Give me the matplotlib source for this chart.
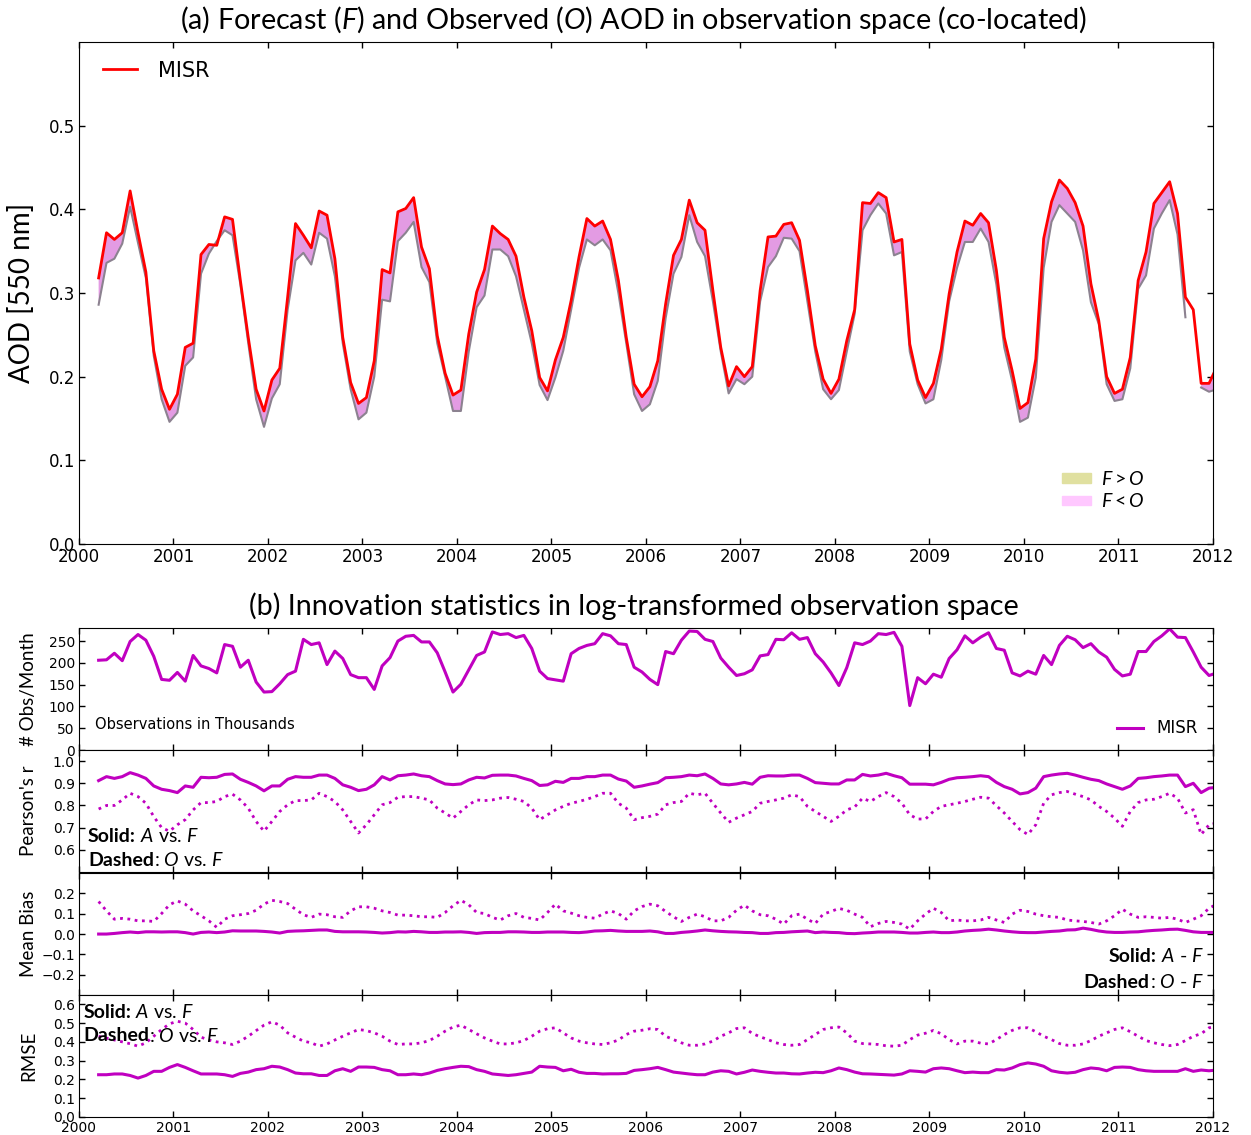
import numpy as np
import matplotlib
matplotlib.use("Agg")
import matplotlib.pyplot as plt
from matplotlib.patches import Patch

plt.rcParams["mathtext.fontset"] = "custom"
plt.rcParams["mathtext.rm"] = "Lato"
plt.rcParams["mathtext.it"] = "Lato:italic"
plt.rcParams["mathtext.bf"] = "Lato:bold"

# ---------- data (monthly, Mar 2000 .. Jan 2012) ----------
start_year, start_month, n_months = 2000, 3, 143
years = start_year + (np.arange(n_months) + start_month - 1 + 0.5) / 12

# observed (MISR) AOD, red line
aod_obs = [0.318, 0.372, 0.364, 0.372, 0.422, 0.372, 0.325, 0.231, 0.185, 0.161,
           0.179, 0.235, 0.240, 0.346, 0.358, 0.357, 0.391, 0.388, 0.315, 0.247,
           0.185, 0.159, 0.196, 0.210, 0.295, 0.383, 0.369, 0.354, 0.398, 0.393,
           0.341, 0.247, 0.193, 0.168, 0.175, 0.219, 0.328, 0.324, 0.397, 0.401,
           0.414, 0.355, 0.329, 0.249, 0.204, 0.178, 0.184, 0.251, 0.301, 0.328,
           0.380, 0.371, 0.364, 0.344, 0.295, 0.255, 0.199, 0.183, 0.220, 0.247,
           0.291, 0.343, 0.389, 0.380, 0.386, 0.364, 0.315, 0.247, 0.191, 0.176,
           0.188, 0.219, 0.287, 0.345, 0.364, 0.411, 0.384, 0.375, 0.303, 0.235,
           0.189, 0.212, 0.200, 0.212, 0.303, 0.367, 0.368, 0.382, 0.384, 0.363,
           0.303, 0.237, 0.197, 0.180, 0.197, 0.243, 0.280, 0.408, 0.407, 0.420,
           0.414, 0.361, 0.364, 0.239, 0.196, 0.175, 0.192, 0.233, 0.299, 0.349,
           0.386, 0.381, 0.395, 0.384, 0.327, 0.247, 0.207, 0.162, 0.169, 0.221,
           0.365, 0.409, 0.435, 0.425, 0.408, 0.380, 0.311, 0.267, 0.200, 0.180,
           0.185, 0.223, 0.315, 0.349, 0.407, 0.420, 0.433, 0.395, 0.295, 0.280,
           0.192, 0.192, 0.212]

# forecast AOD, grey line
aod_fcst = [0.286, 0.336, 0.341, 0.359, 0.403, 0.360, 0.318, 0.225, 0.173, 0.146,
            0.157, 0.213, 0.223, 0.323, 0.347, 0.362, 0.375, 0.369, 0.310, 0.240,
            0.173, 0.140, 0.174, 0.191, 0.280, 0.339, 0.348, 0.334, 0.372, 0.365,
            0.320, 0.240, 0.185, 0.149, 0.157, 0.200, 0.292, 0.290, 0.362, 0.372,
            0.385, 0.331, 0.313, 0.240, 0.200, 0.159, 0.159, 0.230, 0.283, 0.297,
            0.352, 0.352, 0.344, 0.320, 0.280, 0.240, 0.190, 0.172, 0.199, 0.231,
            0.280, 0.330, 0.364, 0.357, 0.364, 0.351, 0.300, 0.240, 0.179, 0.159,
            0.167, 0.195, 0.270, 0.323, 0.343, 0.393, 0.361, 0.344, 0.290, 0.230,
            0.180, 0.197, 0.191, 0.200, 0.290, 0.331, 0.344, 0.366, 0.365, 0.350,
            0.290, 0.230, 0.185, 0.173, 0.184, 0.230, 0.275, 0.375, 0.393, 0.407,
            0.395, 0.345, 0.349, 0.230, 0.191, 0.168, 0.173, 0.220, 0.290, 0.330,
            0.361, 0.361, 0.377, 0.361, 0.310, 0.235, 0.195, 0.146, 0.151, 0.199,
            0.330, 0.385, 0.405, 0.395, 0.385, 0.351, 0.289, 0.263, 0.191, 0.171,
            0.173, 0.210, 0.305, 0.321, 0.377, 0.395, 0.411, 0.370, 0.271, np.nan,
            0.187, 0.182, 0.185]

# number of observations per month (thousands)
n_obs = [206, 207, 222, 205, 249, 265, 252, 215, 162, 160,
         178, 158, 217, 193, 187, 177, 242, 238, 190, 206,
         156, 133, 134, 152, 173, 181, 254, 242, 246, 196,
         227, 210, 173, 166, 166, 139, 193, 212, 250, 261,
         263, 248, 248, 223, 179, 133, 151, 184, 217, 225,
         271, 265, 267, 258, 263, 233, 181, 164, 161, 158,
         221, 233, 240, 244, 267, 262, 244, 242, 190, 179,
         162, 150, 226, 221, 252, 273, 272, 254, 249, 211,
         190, 171, 175, 184, 216, 219, 254, 253, 269, 254,
         258, 221, 202, 177, 148, 189, 246, 242, 250, 267,
         265, 270, 238, 102, 166, 152, 174, 167, 210, 230,
         262, 246, 259, 269, 233, 229, 177, 170, 181, 174,
         217, 196, 240, 261, 253, 235, 244, 225, 213, 185,
         170, 174, 226, 226, 249, 262, 278, 259, 258, 225,
         190, 171, 177]

# Pearson's r, A vs F (solid) and O vs F (dashed)
r_af = [0.912, 0.930, 0.922, 0.930, 0.948, 0.937, 0.922, 0.888, 0.873, 0.867,
        0.858, 0.888, 0.882, 0.927, 0.925, 0.927, 0.940, 0.942, 0.918, 0.904,
        0.888, 0.866, 0.888, 0.888, 0.918, 0.930, 0.927, 0.927, 0.937, 0.937,
        0.922, 0.893, 0.882, 0.867, 0.873, 0.893, 0.930, 0.915, 0.934, 0.937,
        0.942, 0.934, 0.930, 0.912, 0.897, 0.894, 0.897, 0.915, 0.927, 0.924,
        0.936, 0.937, 0.937, 0.933, 0.922, 0.912, 0.890, 0.893, 0.909, 0.904,
        0.922, 0.922, 0.930, 0.930, 0.937, 0.937, 0.919, 0.910, 0.882, 0.888,
        0.896, 0.903, 0.925, 0.927, 0.930, 0.937, 0.934, 0.942, 0.922, 0.897,
        0.893, 0.897, 0.904, 0.896, 0.927, 0.934, 0.933, 0.933, 0.937, 0.937,
        0.922, 0.903, 0.900, 0.897, 0.897, 0.915, 0.915, 0.940, 0.933, 0.937,
        0.945, 0.934, 0.925, 0.896, 0.896, 0.896, 0.893, 0.904, 0.918, 0.925,
        0.927, 0.930, 0.934, 0.930, 0.904, 0.885, 0.873, 0.852, 0.858, 0.878,
        0.930, 0.937, 0.942, 0.945, 0.937, 0.927, 0.918, 0.912, 0.897, 0.885,
        0.873, 0.888, 0.922, 0.925, 0.930, 0.933, 0.937, 0.937, 0.885, 0.900,
        0.858, 0.878, 0.882]
r_of = [0.784, 0.800, 0.800, 0.825, 0.855, 0.840, 0.810, 0.750, 0.700, 0.684,
        0.713, 0.736, 0.780, 0.813, 0.813, 0.818, 0.840, 0.851, 0.825, 0.788,
        0.728, 0.684, 0.728, 0.773, 0.803, 0.822, 0.822, 0.825, 0.855, 0.840,
        0.818, 0.780, 0.728, 0.676, 0.713, 0.758, 0.803, 0.813, 0.837, 0.840,
        0.840, 0.833, 0.825, 0.788, 0.766, 0.743, 0.773, 0.803, 0.825, 0.822,
        0.825, 0.833, 0.836, 0.828, 0.818, 0.788, 0.736, 0.758, 0.780, 0.796,
        0.810, 0.818, 0.828, 0.840, 0.855, 0.855, 0.810, 0.788, 0.736, 0.745,
        0.751, 0.761, 0.803, 0.813, 0.818, 0.855, 0.848, 0.855, 0.810, 0.766,
        0.724, 0.743, 0.758, 0.773, 0.810, 0.818, 0.825, 0.833, 0.848, 0.840,
        0.796, 0.773, 0.751, 0.728, 0.751, 0.780, 0.793, 0.833, 0.818, 0.840,
        0.858, 0.840, 0.810, 0.758, 0.739, 0.739, 0.773, 0.796, 0.803, 0.810,
        0.818, 0.828, 0.837, 0.833, 0.799, 0.766, 0.728, 0.691, 0.669, 0.713,
        0.810, 0.848, 0.858, 0.863, 0.851, 0.840, 0.825, 0.796, 0.773, 0.743,
        0.706, 0.773, 0.813, 0.825, 0.828, 0.840, 0.855, 0.833, 0.766, 0.781,
        0.669, 0.713, 0.721]

# mean bias, A - F (solid) and O - F (dashed)
bias_af = [0.000, 0.000, 0.003, 0.007, 0.010, 0.007, 0.011, 0.011, 0.010, 0.011,
           0.011, 0.007, 0.000, 0.008, 0.010, 0.007, 0.010, 0.016, 0.015, 0.015,
           0.015, 0.013, 0.010, 0.005, 0.013, 0.015, 0.016, 0.018, 0.020, 0.020,
           0.013, 0.011, 0.011, 0.011, 0.010, 0.008, 0.005, 0.007, 0.011, 0.010,
           0.013, 0.011, 0.008, 0.008, 0.010, 0.010, 0.011, 0.008, 0.003, 0.007,
           0.008, 0.008, 0.011, 0.011, 0.010, 0.008, 0.008, 0.010, 0.010, 0.010,
           0.008, 0.007, 0.010, 0.015, 0.016, 0.018, 0.015, 0.013, 0.013, 0.013,
           0.015, 0.011, 0.003, 0.003, 0.008, 0.011, 0.015, 0.020, 0.016, 0.013,
           0.011, 0.010, 0.008, 0.007, 0.003, 0.003, 0.007, 0.008, 0.011, 0.013,
           0.015, 0.007, 0.010, 0.008, 0.007, 0.003, 0.002, 0.005, 0.007, 0.010,
           0.010, 0.010, 0.008, 0.005, 0.005, 0.008, 0.010, 0.007, 0.007, 0.010,
           0.015, 0.018, 0.020, 0.024, 0.020, 0.015, 0.011, 0.008, 0.007, 0.007,
           0.010, 0.013, 0.015, 0.020, 0.021, 0.029, 0.023, 0.015, 0.010, 0.008,
           0.008, 0.010, 0.011, 0.015, 0.018, 0.020, 0.023, 0.024, 0.018, 0.011,
           0.008, 0.008, 0.008]
bias_of = [0.160, 0.114, 0.073, 0.077, 0.073, 0.065, 0.065, 0.062, 0.101, 0.144,
           0.163, 0.147, 0.114, 0.090, 0.065, 0.033, 0.073, 0.090, 0.095, 0.101,
           0.117, 0.147, 0.166, 0.160, 0.150, 0.122, 0.095, 0.082, 0.098, 0.095,
           0.085, 0.082, 0.114, 0.134, 0.134, 0.127, 0.114, 0.106, 0.093, 0.093,
           0.090, 0.085, 0.085, 0.082, 0.106, 0.139, 0.166, 0.144, 0.106, 0.101,
           0.082, 0.069, 0.090, 0.101, 0.082, 0.077, 0.069, 0.106, 0.147, 0.114,
           0.103, 0.090, 0.082, 0.078, 0.098, 0.114, 0.101, 0.073, 0.114, 0.135,
           0.147, 0.139, 0.111, 0.085, 0.062, 0.082, 0.098, 0.085, 0.065, 0.065,
           0.082, 0.117, 0.142, 0.114, 0.095, 0.090, 0.073, 0.049, 0.090, 0.098,
           0.073, 0.052, 0.098, 0.111, 0.126, 0.117, 0.098, 0.082, 0.036, 0.052,
           0.062, 0.057, 0.049, 0.024, 0.065, 0.098, 0.127, 0.106, 0.065, 0.069,
           0.065, 0.065, 0.069, 0.082, 0.069, 0.057, 0.098, 0.117, 0.111, 0.098,
           0.090, 0.085, 0.082, 0.069, 0.065, 0.062, 0.057, 0.049, 0.065, 0.090,
           0.122, 0.098, 0.082, 0.085, 0.082, 0.078, 0.082, 0.073, 0.057, 0.073,
           0.090, 0.127, 0.147]

# RMSE, A vs F (solid) and O vs F (dashed)
rmse_af = [0.225, 0.225, 0.229, 0.229, 0.221, 0.207, 0.221, 0.243, 0.243, 0.264,
           0.279, 0.264, 0.246, 0.229, 0.229, 0.229, 0.225, 0.216, 0.232, 0.239,
           0.252, 0.257, 0.270, 0.266, 0.252, 0.234, 0.230, 0.230, 0.221, 0.221,
           0.246, 0.257, 0.243, 0.266, 0.266, 0.264, 0.252, 0.246, 0.225, 0.225,
           0.229, 0.225, 0.234, 0.248, 0.257, 0.264, 0.270, 0.268, 0.252, 0.243,
           0.229, 0.225, 0.221, 0.225, 0.232, 0.239, 0.270, 0.266, 0.264, 0.246,
           0.254, 0.238, 0.232, 0.232, 0.229, 0.230, 0.230, 0.232, 0.248, 0.252,
           0.257, 0.264, 0.252, 0.239, 0.234, 0.229, 0.225, 0.225, 0.239, 0.246,
           0.243, 0.229, 0.238, 0.250, 0.243, 0.238, 0.234, 0.234, 0.230, 0.229,
           0.234, 0.238, 0.236, 0.246, 0.261, 0.252, 0.239, 0.230, 0.229, 0.227,
           0.225, 0.223, 0.229, 0.246, 0.243, 0.239, 0.257, 0.261, 0.257, 0.246,
           0.236, 0.239, 0.236, 0.236, 0.252, 0.250, 0.261, 0.279, 0.288, 0.282,
           0.270, 0.246, 0.238, 0.234, 0.238, 0.252, 0.261, 0.257, 0.246, 0.264,
           0.266, 0.264, 0.252, 0.246, 0.243, 0.243, 0.243, 0.243, 0.257, 0.243,
           0.250, 0.246, 0.250]
rmse_of = [0.430, 0.420, 0.410, 0.400, 0.390, 0.377, 0.395, 0.430, 0.466, 0.496,
           0.510, 0.500, 0.466, 0.425, 0.410, 0.400, 0.395, 0.386, 0.404, 0.430,
           0.460, 0.489, 0.507, 0.489, 0.448, 0.425, 0.404, 0.395, 0.377, 0.389,
           0.410, 0.430, 0.448, 0.466, 0.460, 0.448, 0.430, 0.404, 0.386, 0.389,
           0.389, 0.395, 0.407, 0.430, 0.457, 0.479, 0.489, 0.466, 0.443, 0.421,
           0.404, 0.389, 0.389, 0.395, 0.407, 0.430, 0.457, 0.470, 0.475, 0.448,
           0.421, 0.404, 0.395, 0.389, 0.386, 0.395, 0.410, 0.439, 0.457, 0.462,
           0.470, 0.466, 0.430, 0.412, 0.395, 0.382, 0.382, 0.389, 0.404, 0.430,
           0.448, 0.471, 0.475, 0.445, 0.427, 0.412, 0.395, 0.386, 0.382, 0.386,
           0.412, 0.439, 0.466, 0.475, 0.479, 0.448, 0.404, 0.391, 0.389, 0.386,
           0.379, 0.377, 0.382, 0.412, 0.436, 0.446, 0.461, 0.443, 0.412, 0.389,
           0.404, 0.404, 0.393, 0.389, 0.412, 0.439, 0.461, 0.475, 0.475, 0.454,
           0.430, 0.412, 0.391, 0.382, 0.382, 0.389, 0.407, 0.430, 0.448, 0.466,
           0.475, 0.454, 0.430, 0.407, 0.395, 0.386, 0.380, 0.386, 0.407, 0.430,
           0.443, 0.475, 0.484]

year_ticks = list(range(2000, 2013))

aod_obs = np.array(aod_obs)
aod_fcst = np.array(aod_fcst)

MAG = "#c000c0"
HEAD = "Lato"


def style_axis(ax, labelsize):
    ax.tick_params(direction="in", top=True, right=True, length=4.5, width=1,
                   labelsize=labelsize, pad=3)
    ax.set_xlim(2000, 2012)
    ax.set_xticks(year_ticks)


def two_part(ax, x, y, bold, rest, ha="left", size=14):
    # bold label followed by mixed italic text, placed next to each other
    if ha == "left":
        t1 = ax.text(x, y, bold, transform=ax.transAxes, fontsize=size, family=HEAD,
                     fontweight="bold", va="center", ha="left")
        ax.annotate(rest, xy=(1, 0.5), xycoords=t1, fontsize=size, family=HEAD,
                    va="center", ha="left")
    else:
        t2 = ax.text(x, y, rest, transform=ax.transAxes, fontsize=size, family=HEAD,
                     va="center", ha="right")
        ax.annotate(bold, xy=(0, 0.5), xycoords=t2, fontsize=size, family=HEAD,
                    fontweight="bold", va="center", ha="right")


fig = plt.figure(figsize=(12.51, 11.35), dpi=100)

# ---------- (a) forecast vs observed ----------
ax = fig.add_axes([0.0631, 0.5207, 0.9065, 0.4423])
ax.fill_between(years, aod_fcst, aod_obs, where=aod_fcst < aod_obs, interpolate=True,
                color="#e39be3", lw=0)
ax.fill_between(years, aod_fcst, aod_obs, where=aod_fcst >= aod_obs, interpolate=True,
                color="#c9c98c", lw=0)
ax.plot(years, aod_fcst, color="#8c8290", lw=1.5)
ax.plot(years, aod_obs, color="red", lw=2, label="MISR")
style_axis(ax, 12)
ax.set_ylim(0, 0.6)
ax.set_yticks([0, 0.1, 0.2, 0.3, 0.4, 0.5])
ax.set_ylabel("AOD [550 nm]", family=HEAD, fontsize=20)
ax.yaxis.set_label_coords(-0.039, 0.5)
leg1 = ax.legend(loc="upper left", frameon=False, fontsize=15, handlelength=1.6,
                 handletextpad=1.0, bbox_to_anchor=(0.005, 1.0))
ax.add_artist(leg1)
ax.legend(handles=[Patch(color="#e0e0a0", label=r"$F > O$"),
                   Patch(color="#ffc8ff", label=r"$F < O$")],
          loc="lower right", frameon=False, fontsize=14, handlelength=1.5,
          handleheight=0.4, handletextpad=0.5, labelspacing=0.2,
          bbox_to_anchor=(0.955, 0.03))
fig.text(0.5064, 0.9824, r"(a) Forecast ($F$) and Observed ($O$) AOD in observation space (co-located)",
         family=HEAD, fontsize=20.7, ha="center", va="center")

# ---------- (b) innovation statistics ----------
fig.text(0.5068, 0.466, "(b) Innovation statistics in log-transformed observation space",
         family=HEAD, fontsize=20.7, ha="center", va="center")

h = 0.1075
bottoms = [0.3392, 0.2317, 0.1233, 0.0159]
axs = [fig.add_axes([0.0631, b, 0.9065, h]) for b in bottoms]

a1, a2, a3, a4 = axs
a1.plot(years, n_obs, color=MAG, lw=2.2, label="MISR")
a1.set_ylim(0, 280)
a1.set_yticks([0, 50, 100, 150, 200, 250])
a1.set_ylabel("# Obs/Month", family=HEAD, fontsize=13.5)
a1.text(0.014, 0.21, "Observations in Thousands", transform=a1.transAxes,
        fontsize=10.5, va="center")
a1.legend(loc="lower right", frameon=False, fontsize=12, handlelength=1.6,
          bbox_to_anchor=(1.0, -0.02))

a2.plot(years, r_af, color=MAG, lw=2.2)
a2.plot(years, r_of, color=MAG, lw=2, ls=":")
a2.set_ylim(0.5, 1.05)
a2.set_yticks([0.6, 0.7, 0.8, 0.9, 1.0])
a2.set_ylabel("Pearson's r", family=HEAD, fontsize=13.5)
two_part(a2, 0.008, 0.295, "Solid:", r" $A$ vs. $F$")
two_part(a2, 0.008, 0.098, "Dashed", r": $O$ vs. $F$")

a3.plot(years, bias_af, color=MAG, lw=2.2)
a3.plot(years, bias_of, color=MAG, lw=2, ls=":")
a3.set_ylim(-0.3, 0.3)
a3.set_yticks([-0.2, -0.1, 0.0, 0.1, 0.2])
a3.set_ylabel("Mean Bias", family=HEAD, fontsize=13.5)
two_part(a3, 0.992, 0.317, "Solid:", r" $A$ - $F$", ha="right")
two_part(a3, 0.992, 0.106, "Dashed", r": $O$ - $F$", ha="right")

a4.plot(years, rmse_af, color=MAG, lw=2.2)
a4.plot(years, rmse_of, color=MAG, lw=2, ls=":")
a4.set_ylim(0, 0.65)
a4.set_yticks([0, 0.1, 0.2, 0.3, 0.4, 0.5, 0.6])
a4.set_ylabel("RMSE", family=HEAD, fontsize=13.5)
two_part(a4, 0.004, 0.86, "Solid:", r" $A$ vs. $F$")
two_part(a4, 0.004, 0.664, "Dashed", r": $O$ vs. $F$")

for a in axs:
    style_axis(a, 10)
    a.yaxis.set_label_coords(-0.037, 0.5)
for a in axs[:-1]:
    a.set_xticklabels([])

fig.savefig("out.png", dpi=100)
